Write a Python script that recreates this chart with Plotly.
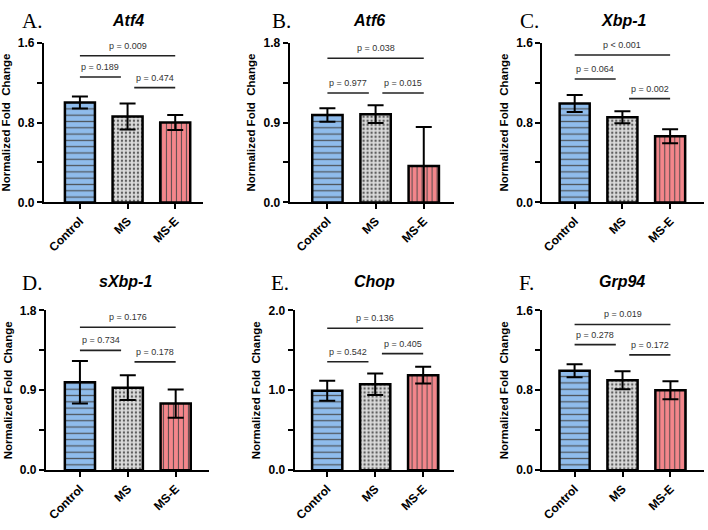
import plotly.graph_objects as go

# ---------------- data ----------------
groups = ["Control", "MS", "MS-E"]
panel_letters = ["A.", "B.", "C.", "D.", "E.", "F."]
genes = ["Atf4", "Atf6", "Xbp-1", "sXbp-1", "Chop", "Grp94"]

atf4_mean = [1.00, 0.86, 0.80]
atf4_sd = [0.06, 0.13, 0.075]
atf6_mean = [0.985, 0.995, 0.41]
atf6_sd = [0.075, 0.10, 0.44]
xbp1_mean = [0.99, 0.853, 0.663]
xbp1_sd = [0.085, 0.06, 0.07]
sxbp1_mean = [0.99, 0.93, 0.75]
sxbp1_sd = [0.24, 0.14, 0.16]
chop_mean = [0.995, 1.075, 1.19]
chop_sd = [0.125, 0.135, 0.105]
grp94_mean = [0.995, 0.90, 0.80]
grp94_sd = [0.065, 0.09, 0.09]

means = [atf4_mean, atf6_mean, xbp1_mean, sxbp1_mean, chop_mean, grp94_mean]
sds = [atf4_sd, atf6_sd, xbp1_sd, sxbp1_sd, chop_sd, grp94_sd]

# p-values: [Control vs MS-E, Control vs MS, MS vs MS-E]
pvals = [
    ["p = 0.009", "p = 0.189", "p = 0.474"],
    ["p = 0.038", "p = 0.977", "p = 0.015"],
    ["p < 0.001", "p = 0.064", "p = 0.002"],
    ["p = 0.176", "p = 0.734", "p = 0.178"],
    ["p = 0.136", "p = 0.542", "p = 0.405"],
    ["p = 0.019", "p = 0.278", "p = 0.172"],
]
# bracket heights (data units) for the three comparisons
bracket_y = [
    [1.47, 1.256, 1.15],
    [1.625, 1.234, 1.234],
    [1.477, 1.236, 1.04],
    [1.61, 1.35, 1.22],
    [1.777, 1.358, 1.46],
    [1.46, 1.258, 1.155],
]
y_max = [1.6, 1.8, 1.6, 1.8, 2.0, 1.6]

# ---------------- layout geometry ----------------
W, H = 708, 530
x_dom_px = [(43, 202), (289, 454), (542, 704), (45, 208), (294, 454), (542, 704)]
y_dom_px = [(36.7, 200.7)] * 3 + [(311.7, 475.7)] * 3
x_ranges = [(-0.755, 2.577), (-0.785, 2.635), (-0.68, 2.71),
            (-0.71, 2.69), (-0.68, 2.65), (-0.675, 2.70)]
letter_pos = [(31, 14), (281, 14), (529, 14), (31, 283), (279, 283), (526, 283)]
gene_pos = [(127, 14), (369, 14), (624, 14), (125, 282), (374, 282), (622, 282)]

FONT = "Arial, 'Liberation Sans', sans-serif"
fill_colors = ["#8fbcec", "#dadada", "#f4868b"]
fg_colors = ["#2f4258", "#4a4a4a", "#5b2628"]
shapes_pat = ["-", ".", "|"]
pat_sizes = [6.3, 4, 5]
pat_sol = [0.2, 0.28, 0.22]

fig = go.Figure()
layout_axes = {}
shapes = []
annotations = []

for i in range(6):
    xa = "x" if i == 0 else f"x{i+1}"
    ya = "y" if i == 0 else f"y{i+1}"
    xkey = "xaxis" if i == 0 else f"xaxis{i+1}"
    ykey = "yaxis" if i == 0 else f"yaxis{i+1}"

    fig.add_trace(go.Bar(
        x=[0, 1, 2], y=means[i], xaxis=xa, yaxis=ya, width=0.63,
        marker=dict(
            color=fill_colors,
            line=dict(color="black", width=2.5),
            pattern=dict(shape=shapes_pat, fgcolor=fg_colors, fgopacity=0.85,
                         size=pat_sizes, solidity=pat_sol, fillmode="overlay"),
        ),
        error_y=dict(type="data", array=sds[i], visible=True, color="black",
                     thickness=2, width=8),
        showlegend=False, hoverinfo="skip",
    ))

    x0, x1 = x_dom_px[i]
    yt, yb = y_dom_px[i]
    ym = y_max[i]
    step = ym / 4
    tv = [step * k for k in range(5)]
    tt = [f"{v:.1f}" if k % 2 == 0 else "" for k, v in enumerate(tv)]

    layout_axes[xkey] = dict(
        domain=[x0 / W, x1 / W], range=list(x_ranges[i]), anchor=ya,
        tickvals=[0, 1, 2], ticktext=groups, tickangle=-45,
        showline=True, linecolor="black", linewidth=2, ticks="outside",
        ticklen=5, tickwidth=2, tickcolor="black", showgrid=False, zeroline=False,
        tickfont=dict(family=FONT, size=12, color="black", weight="bold"),
        fixedrange=True,
    )
    layout_axes[ykey] = dict(
        domain=[1 - yb / H, 1 - yt / H], range=[0, ym], anchor=xa,
        tickvals=tv, ticktext=tt,
        showline=True, linecolor="black", linewidth=2, ticks="outside",
        ticklen=5, tickwidth=2, tickcolor="black", showgrid=False, zeroline=False,
        tickfont=dict(family=FONT, size=12, color="black", weight="bold"),
        title=dict(text="Normalized Fold\u00a0 Change", standoff=5,
                   font=dict(family=FONT, size=11.5, color="black", weight="bold")),
        fixedrange=True,
    )

    # significance brackets
    spans = [(0, 2), (0, 0.86), (1.14, 2)]
    for k in range(3):
        sx0, sx1 = spans[k]
        by = bracket_y[i][k]
        shapes.append(dict(type="line", xref=xa, yref=ya, x0=sx0, x1=sx1, y0=by, y1=by,
                           line=dict(color="#222222", width=1.6)))
        annotations.append(dict(x=(sx0 + sx1) / 2, y=by, xref=xa, yref=ya,
                                text=pvals[i][k], showarrow=False, yanchor="bottom",
                                yshift=3, font=dict(family=FONT, size=9, color="#333333")))

    lx, ly = letter_pos[i]
    annotations.append(dict(x=lx / W, y=1 - ly / H, xref="paper", yref="paper",
                            text=panel_letters[i], showarrow=False,
                            xanchor="center", yanchor="middle",
                            font=dict(family="'Times New Roman', 'Liberation Serif', serif",
                                      size=21, color="black")))
    gx, gy = gene_pos[i]
    annotations.append(dict(x=gx / W, y=1 - gy / H, xref="paper", yref="paper",
                            text=f"<b><i>{genes[i]}</i></b>", showarrow=False,
                            xanchor="center", yanchor="middle",
                            font=dict(family=FONT, size=16, color="black")))

fig.update_layout(
    width=W, height=H, margin=dict(l=0, r=0, t=0, b=0),
    paper_bgcolor="white", plot_bgcolor="white",
    shapes=shapes, annotations=annotations, bargap=0.3,
    **layout_axes,
)

fig.write_html("out.html", config={"displayModeBar": False})
